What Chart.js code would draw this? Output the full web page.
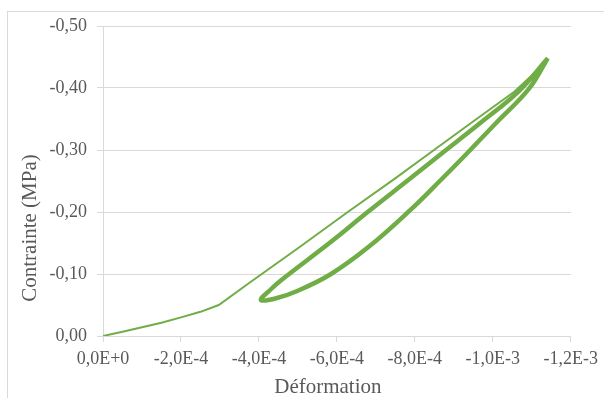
<!DOCTYPE html>
<html>
<head>
<meta charset="utf-8">
<script src="https://cdn.jsdelivr.net/npm/chart.js@4.4.1/dist/chart.umd.min.js"></script>
<style>
  body { margin: 0; overflow: hidden; background: #fff; }
  #frame { position: absolute; left: 7px; top: 11px; width: 700px; height: 500px; border: 1px solid #d9d9d9; }
  #wrap { position: absolute; left: 0; top: 0; width: 604px; height: 398px; }
</style>
</head>
<body>
<div id="frame"></div>
<div id="wrap"><canvas id="myChart" width="604" height="398"></canvas></div>
<script>
// first loading (thin line)
const strainLoading = [0, -0.5e-4, -1.0e-4, -1.5e-4, -2.0e-4, -2.5e-4, -2.97e-4, -3.74e-4, -5.01e-4, -6.28e-4, -7.47e-4, -8.36e-4, -9.45e-4, -10.55e-4, -10.98e-4, -11.41e-4];
const stressLoading = [0, -0.0068, -0.014, -0.0215, -0.030, -0.039, -0.050, -0.085, -0.142, -0.200, -0.253, -0.294, -0.344, -0.394, -0.419, -0.448];

// unloading / reloading cycles (thick loop)
const strainCycle = [-11.41e-4, -10.93e-4, -10.09e-4, -9.33e-4, -8.64e-4, -7.88e-4, -6.8e-4, -5.85e-4, -5.0e-4, -4.4e-4, -4.05e-4,
                     -4.3e-4, -4.57e-4, -5.85e-4, -6.79e-4, -7.88e-4, -8.64e-4, -9.71e-4, -10.67e-4, -11.41e-4];
const stressCycle = [-0.448, -0.399, -0.344, -0.294, -0.250, -0.203, -0.143, -0.100, -0.073, -0.060, -0.058,
                     -0.075, -0.090, -0.152, -0.200, -0.254, -0.292, -0.345, -0.395, -0.448];

const xTitle = "Déformation";
const yTitle = "Contrainte (MPa)";

const green = "#70ad47";
const grey = "#d9d9d9";
const textColor = "#595959";
const serif = "'Liberation Serif', 'Times New Roman', serif";

const toPoints = (xs, ys) => xs.map((x, i) => ({x: x, y: ys[i]}));

const axisTitles = {
  id: "axisTitles",
  afterDraw(chart) {
    const ctx = chart.ctx;
    const a = chart.chartArea;
    ctx.save();
    ctx.fillStyle = textColor;
    ctx.font = "21px " + serif;
    ctx.textAlign = "center";
    ctx.textBaseline = "alphabetic";
    ctx.fillText(xTitle, (a.left + a.right) / 2 - 9, 393);
    ctx.translate(30, 228);
    ctx.rotate(-Math.PI / 2);
    ctx.textBaseline = "middle";
    ctx.fillText(yTitle, 0, 0);
    ctx.restore();
  }
};

new Chart("myChart", {
  type: "scatter",
  data: {
    datasets: [{
      data: toPoints(strainLoading, stressLoading),
      showLine: true,
      borderColor: green,
      borderWidth: 2,
      pointRadius: 0,
      tension: 0
    }, {
      data: toPoints(strainCycle, stressCycle),
      showLine: true,
      borderColor: green,
      borderWidth: 4.5,
      pointRadius: 0,
      tension: 0.4
    }]
  },
  options: {
    responsive: false,
    animation: false,
    devicePixelRatio: 1,
    layout: {padding: {top: 26, right: 29, left: 0, bottom: 0}},
    scales: {
      x: {
        type: "linear",
        min: -1.2e-3,
        max: 0,
        reverse: true,
        afterFit: (s) => { s.height = 62; },
        grid: {display: true, drawOnChartArea: false, drawTicks: true, tickLength: 6, color: grey},
        border: {display: true, color: grey},
        ticks: {
          stepSize: 2e-4,
          padding: 6,
          color: textColor,
          font: {family: serif, size: 18},
          maxRotation: 0,
          callback: (v) => Number(v).toExponential(1).replace(".", ",").toUpperCase()
        }
      },
      y: {
        min: -0.5,
        max: 0,
        reverse: true,
        afterFit: (s) => { s.width = 103; },
        grid: {color: grey, tickLength: 6},
        border: {display: true, color: grey},
        ticks: {
          stepSize: 0.1,
          padding: 10,
          color: textColor,
          font: {family: serif, size: 18},
          callback: (v) => Number(v).toFixed(2).replace(".", ",")
        }
      }
    },
    plugins: {
      legend: {display: false},
      tooltip: {enabled: false}
    }
  },
  plugins: [axisTitles]
});
</script>
</body>
</html>
